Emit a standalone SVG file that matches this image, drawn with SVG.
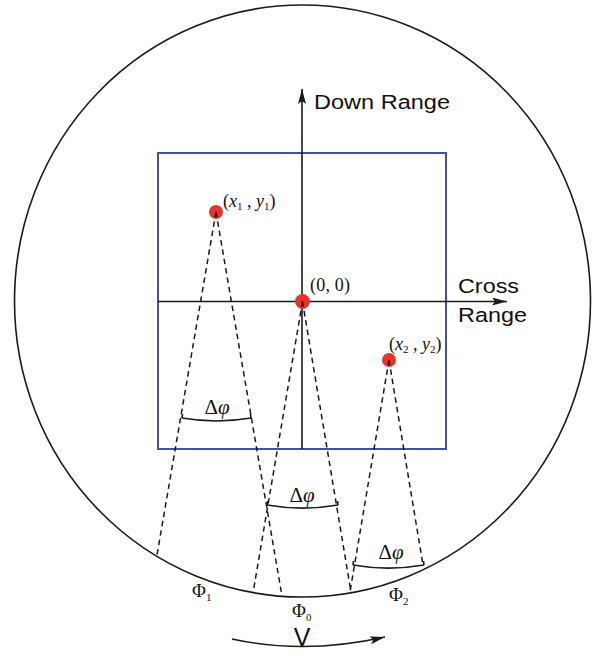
<svg xmlns="http://www.w3.org/2000/svg" width="597" height="656" viewBox="0 0 597 656">
<style>
.outline{fill:none;stroke:#1a1a1a;stroke-width:1.6}
.box{fill:none;stroke:#3f52a3;stroke-width:2}
.axis{fill:none;stroke:#1a1a1a;stroke-width:1.6}
.dash{fill:none;stroke:#1a1a1a;stroke-width:1.5;stroke-dasharray:5.5 4}
.arc{fill:none;stroke:#1a1a1a;stroke-width:1.6}
.dot{fill:#e8332b}
.sans{font-family:"Liberation Sans",Arial,sans-serif;fill:#111}
.math{font-family:"Liberation Serif","DejaVu Serif",serif;fill:#111}
.it{font-style:italic}
</style>
<defs>
<marker id="ah" markerUnits="userSpaceOnUse" markerWidth="16" markerHeight="10" refX="15" refY="4" orient="auto">
<path d="M0,0 L15,4 L0,8 L3,4 z" fill="#1a1a1a"/>
</marker>
</defs>
<rect width="597" height="656" fill="#fff"/>
<g id="circle"><ellipse class="outline" cx="302.5" cy="301" rx="288" ry="296"/></g>
<g id="box"><rect class="box" x="158" y="153" width="288" height="296"/></g>
<g id="axes">
<line class="axis" x1="302" y1="449" x2="302" y2="89" marker-end="url(#ah)"/>
<line class="axis" x1="158" y1="301.5" x2="507" y2="301.5" marker-end="url(#ah)"/>
<text class="sans" x="314" y="109" font-size="20" textLength="136" lengthAdjust="spacingAndGlyphs">Down Range</text>
<text class="sans" x="458" y="293" font-size="20" textLength="61" lengthAdjust="spacingAndGlyphs">Cross</text>
<text class="sans" x="458" y="322" font-size="20" textLength="69" lengthAdjust="spacingAndGlyphs">Range</text>
</g>
<g id="node-p1">
<circle class="dot" cx="216" cy="212" r="7"/>
<text class="math" x="223" y="207" font-size="18">(<tspan class="it">x</tspan><tspan font-size="11" dy="3">1</tspan><tspan dy="-3"> , </tspan><tspan class="it">y</tspan><tspan font-size="11" dy="3">1</tspan><tspan dy="-3">)</tspan></text>
</g>
<g id="node-origin">
<circle class="dot" cx="302.5" cy="301.5" r="7.5"/>
<text class="math" x="310" y="291" font-size="18" textLength="40" lengthAdjust="spacing">(0, 0)</text>
</g>
<g id="node-p2">
<circle class="dot" cx="389" cy="360" r="7"/>
<text class="math" x="389" y="350" font-size="18">(<tspan class="it">x</tspan><tspan font-size="11" dy="3">2</tspan><tspan dy="-3"> , </tspan><tspan class="it">y</tspan><tspan font-size="11" dy="3">2</tspan><tspan dy="-3">)</tspan></text>
</g>
<g id="connectors">
<line class="dash" x1="216" y1="212" x2="157" y2="555"/>
<line class="dash" x1="216" y1="212" x2="282" y2="596"/>
<line class="dash" x1="302.5" y1="301.5" x2="253" y2="593"/>
<line class="dash" x1="302.5" y1="301.5" x2="351" y2="592"/>
<line class="dash" x1="389" y1="360" x2="350" y2="592"/>
<line class="dash" x1="389" y1="360" x2="423" y2="565"/>
</g>
<g id="angle-1">
<path class="arc" d="M182,418 A206,206 0 0 0 251,418"/>
<path class="arc" d="M182,418 l0.5,-4 M251,418 l-0.5,-4"/>
<text class="math" x="217" y="414" font-size="21" text-anchor="middle">Δ<tspan class="it">φ</tspan></text>
</g>
<g id="angle-2">
<path class="arc" d="M267,505 A206,206 0 0 0 338,505"/>
<path class="arc" d="M267,505 l0.5,-4 M338,505 l-0.5,-4"/>
<text class="math" x="302" y="502" font-size="21" text-anchor="middle">Δ<tspan class="it">φ</tspan></text>
</g>
<g id="angle-3">
<path class="arc" d="M353,565 A206,206 0 0 0 424,565"/>
<path class="arc" d="M353,565 l0.5,-4 M424,565 l-0.5,-4"/>
<text class="math" x="391" y="559" font-size="21" text-anchor="middle">Δ<tspan class="it">φ</tspan></text>
</g>
<g id="phi-labels">
<text class="math" x="192" y="597" font-size="19">Φ<tspan font-size="11" dy="4">1</tspan></text>
<text class="math" x="292" y="617" font-size="19">Φ<tspan font-size="11" dy="4">0</tspan></text>
<text class="math" x="389" y="601" font-size="19">Φ<tspan font-size="11" dy="4">2</tspan></text>
</g>
<g id="motion">
<path class="arc" d="M232,639 Q305,655 385,637" marker-end="url(#ah)"/>
<text class="sans" x="302" y="646" font-size="25" text-anchor="middle" font-weight="300">V</text>
</g>
</svg>
